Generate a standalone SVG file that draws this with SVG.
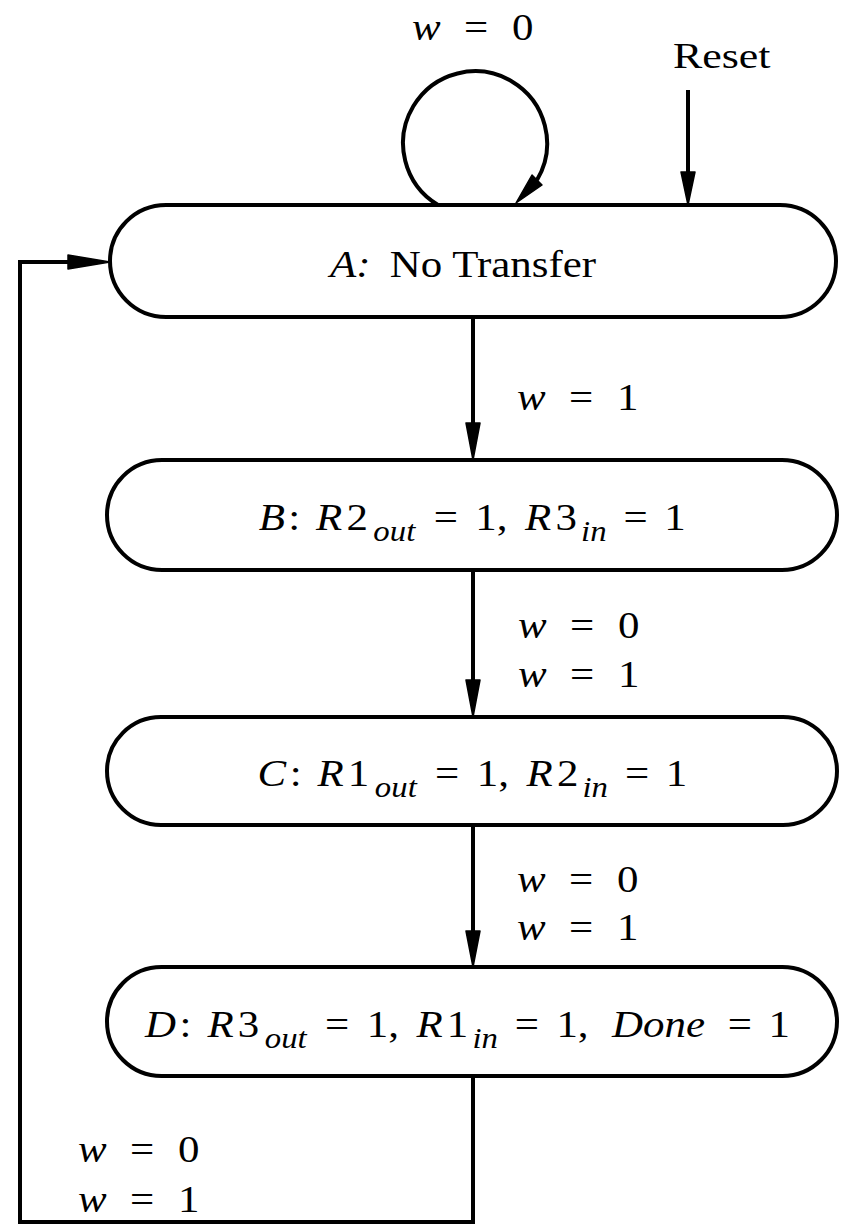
<svg xmlns="http://www.w3.org/2000/svg" width="844" height="1227" viewBox="0 0 844 1227">
<style>
text{font-family:"Liberation Serif","Times New Roman",serif;fill:#000;font-size:38px}
.n{fill:#fff;stroke:#000;stroke-width:4}
.c{fill:none;stroke:#000;stroke-width:4;stroke-linejoin:miter}
.ah{fill:#000;stroke:#000;stroke-width:1.5;stroke-linejoin:round}
.i{font-style:italic}
.s{font-size:29px;font-style:italic}
.r{font-size:36px}
.nd text{text-anchor:middle}
</style>
<rect width="844" height="1227" fill="#fff"/>
<g id="connectors">
  <path class="c" d="M438,205 A72,72 0 1 1 537,180"/>
  <polygon class="ah" points="532,175 542,185 516,203"/>
  <line class="c" x1="688" y1="90" x2="688" y2="178"/>
  <polygon class="ah" points="681,172 695,172 688,205"/>
  <line class="c" x1="473" y1="317" x2="473" y2="428"/>
  <polygon class="ah" points="466,423 480,423 473,460"/>
  <line class="c" x1="473" y1="570" x2="473" y2="685"/>
  <polygon class="ah" points="466,680 480,680 473,717"/>
  <line class="c" x1="473" y1="825" x2="473" y2="936"/>
  <polygon class="ah" points="466,931 480,931 473,967"/>
  <polyline class="c" points="473,1076 473,1222 20,1222 20,262 74,262"/>
  <polygon class="ah" points="68,255 68,269 110,262"/>
</g>
<g id="A" class="nd">
  <rect class="n" x="110" y="205" width="726" height="112" rx="56"/>
  <text class="i" transform="translate(350.3,277) scale(1.13,1)">A:</text>
  <text transform="translate(493,277) scale(1.13,1)">No Transfer</text>
</g>
<g id="B" class="nd">
  <rect class="n" x="107" y="460" width="730" height="110" rx="55"/>
  <text class="i" transform="translate(271.9,530) scale(1.13,1)">B</text>
  <text transform="translate(294.2,530) scale(1.13,1)">:</text>
  <text class="i" transform="translate(329.1,530) scale(1.13,1)">R</text>
  <text transform="translate(357.1,530) scale(1.13,1)">2</text>
  <text class="s" transform="translate(394.3,541) scale(1.13,1)">out</text>
  <text transform="translate(445.8,530) scale(1.13,1)">=</text>
  <text transform="translate(491.4,530) scale(1.13,1)">1,</text>
  <text class="i" transform="translate(538.2,530) scale(1.13,1)">R</text>
  <text transform="translate(566.2,530) scale(1.13,1)">3</text>
  <text class="s" transform="translate(593.8,541) scale(1.13,1)">in</text>
  <text transform="translate(635.6,530) scale(1.13,1)">=</text>
  <text transform="translate(674.9,530) scale(1.13,1)">1</text>
</g>
<g id="C" class="nd">
  <rect class="n" x="107" y="717" width="730" height="108" rx="54"/>
  <text class="i" transform="translate(271.9,786) scale(1.13,1)">C</text>
  <text transform="translate(295.6,786) scale(1.13,1)">:</text>
  <text class="i" transform="translate(330.6,786) scale(1.13,1)">R</text>
  <text transform="translate(358.5,786) scale(1.13,1)">1</text>
  <text class="s" transform="translate(395.8,797) scale(1.13,1)">out</text>
  <text transform="translate(447.2,786) scale(1.13,1)">=</text>
  <text transform="translate(492.8,786) scale(1.13,1)">1,</text>
  <text class="i" transform="translate(539.7,786) scale(1.13,1)">R</text>
  <text transform="translate(567.6,786) scale(1.13,1)">2</text>
  <text class="s" transform="translate(595.2,797) scale(1.13,1)">in</text>
  <text transform="translate(637,786) scale(1.13,1)">=</text>
  <text transform="translate(676.4,786) scale(1.13,1)">1</text>
</g>
<g id="D" class="nd">
  <rect class="n" x="107" y="967" width="730" height="109" rx="54.5"/>
  <text class="i" transform="translate(160.4,1037) scale(1.13,1)">D</text>
  <text transform="translate(185.5,1037) scale(1.13,1)">:</text>
  <text class="i" transform="translate(220.5,1037) scale(1.13,1)">R</text>
  <text transform="translate(248.4,1037) scale(1.13,1)">3</text>
  <text class="s" transform="translate(285.7,1048) scale(1.13,1)">out</text>
  <text transform="translate(337.2,1037) scale(1.13,1)">=</text>
  <text transform="translate(382.8,1037) scale(1.13,1)">1,</text>
  <text class="i" transform="translate(429.6,1037) scale(1.13,1)">R</text>
  <text transform="translate(457.5,1037) scale(1.13,1)">1</text>
  <text class="s" transform="translate(485.2,1048) scale(1.13,1)">in</text>
  <text transform="translate(526.9,1037) scale(1.13,1)">=</text>
  <text transform="translate(572.5,1037) scale(1.13,1)">1,</text>
  <text class="i" transform="translate(658.5,1037) scale(1.13,1)">Done</text>
  <text transform="translate(739.8,1037) scale(1.13,1)">=</text>
  <text transform="translate(779.1,1037) scale(1.13,1)">1</text>
</g>
<g id="labels">
  <text class="r" transform="translate(673,68) scale(1.22,1)">Reset</text>
  <text class="i" transform="translate(412,40) scale(1.13,1)">w</text>
  <text transform="translate(464,40) scale(1.13,1)">=</text>
  <text transform="translate(512,40) scale(1.13,1)">0</text>
  <text class="i" transform="translate(517,410) scale(1.13,1)">w</text>
  <text transform="translate(569,410) scale(1.13,1)">=</text>
  <text transform="translate(617,410) scale(1.13,1)">1</text>
  <text class="i" transform="translate(518,638) scale(1.13,1)">w</text>
  <text transform="translate(570,638) scale(1.13,1)">=</text>
  <text transform="translate(618,638) scale(1.13,1)">0</text>
  <text class="i" transform="translate(518,687) scale(1.13,1)">w</text>
  <text transform="translate(570,687) scale(1.13,1)">=</text>
  <text transform="translate(618,687) scale(1.13,1)">1</text>
  <text class="i" transform="translate(517,892) scale(1.13,1)">w</text>
  <text transform="translate(569,892) scale(1.13,1)">=</text>
  <text transform="translate(617,892) scale(1.13,1)">0</text>
  <text class="i" transform="translate(517,940) scale(1.13,1)">w</text>
  <text transform="translate(569,940) scale(1.13,1)">=</text>
  <text transform="translate(617,940) scale(1.13,1)">1</text>
  <text class="i" transform="translate(78,1162) scale(1.13,1)">w</text>
  <text transform="translate(130,1162) scale(1.13,1)">=</text>
  <text transform="translate(178,1162) scale(1.13,1)">0</text>
  <text class="i" transform="translate(78,1212) scale(1.13,1)">w</text>
  <text transform="translate(130,1212) scale(1.13,1)">=</text>
  <text transform="translate(178,1212) scale(1.13,1)">1</text>
</g>
</svg>
